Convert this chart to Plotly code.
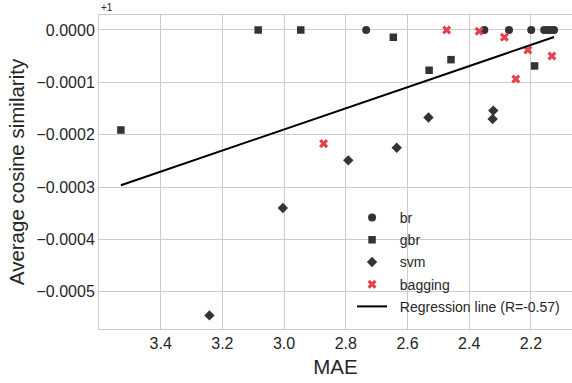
import numpy as np
import plotly.graph_objects as go

# MAE and average cosine similarity per model run
br_mae = [2.734, 2.351, 2.271, 2.199, 2.157, 2.146, 2.136, 2.125]
br_cos = [1.0, 1.0, 1.0, 1.0, 1.0, 1.0, 1.0, 1.0]

gbr_mae = [3.529, 3.084, 2.946, 2.646, 2.459, 2.530, 2.188]
gbr_cos = [0.999809, 1.0, 1.0, 0.9999861, 0.9999433, 0.9999231, 0.9999313]

svm_mae = [3.242, 3.004, 2.792, 2.635, 2.532, 2.322, 2.324]
svm_cos = [0.999455, 0.99966, 0.999751, 0.999775, 0.999833, 0.999846, 0.99983]

bag_mae = [2.872, 2.473, 2.368, 2.286, 2.249, 2.210, 2.132]
bag_cos = [0.999783, 1.0, 0.9999975, 0.9999861, 0.9999065, 0.9999618, 0.9999504]

# correlation coefficient reported for the regression line
r_reported = -0.57

x_ticks = [3.4, 3.2, 3.0, 2.8, 2.6, 2.4, 2.2]
y_ticks = [0.0, -0.0001, -0.0002, -0.0003, -0.0004, -0.0005]

DARK = "#333333"
RED = "#e3434f"
FONT = "Liberation Sans, Arial, sans-serif"
PAD = "\u00a0\u00a0"  # extra gap between legend symbol and label

all_mae = np.array(br_mae + gbr_mae + svm_mae + bag_mae)
all_cos = np.array(br_cos + gbr_cos + svm_cos + bag_cos) - 1.0
slope, intercept = np.polyfit(all_mae, all_cos, 1)
line_x = np.array([all_mae.max(), all_mae.min()])
line_y = slope * line_x + intercept

fig = go.Figure()

def add_series(name, xs, ys, symbol, color, size, group):
    fig.add_trace(go.Scatter(
        x=xs, y=np.array(ys) - 1.0, mode="markers", name=PAD + name,
        legendgroup=group,
        marker=dict(symbol=symbol, color=color, size=size, line=dict(width=0)),
    ))

add_series("br", br_mae, br_cos, "circle", DARK, 8, "a")
add_series("gbr", gbr_mae, gbr_cos, "square", DARK, 7.5, "b")
add_series("svm", svm_mae, svm_cos, "diamond", DARK, 8, "c")
add_series("bagging", bag_mae, bag_cos, "x", RED, 8, "d")

fig.add_trace(go.Scatter(
    x=line_x, y=line_y, mode="lines", legendgroup="e",
    name=PAD + f"Regression line (R={r_reported:.2f})",
    line=dict(color="black", width=2),
))

axis_common = dict(
    showgrid=True, gridcolor="#cccccc", gridwidth=1,
    showline=True, linecolor="#cccccc", linewidth=1,
    zeroline=False, ticks="",
    tickfont=dict(family=FONT, size=16, color="#262626"),
    title_font=dict(family=FONT, size=20.5, color="#262626"),
)

fig.update_layout(
    width=572, height=383,
    margin=dict(l=99, r=0, t=15, b=54),
    paper_bgcolor="white", plot_bgcolor="white",
    font=dict(family=FONT, color="#262626"),
    showlegend=True,
    legend=dict(
        x=0.535, y=0.4045, xanchor="left", yanchor="top",
        bgcolor="rgba(255,255,255,0)", borderwidth=0,
        font=dict(family=FONT, size=14, color="#262626"),
        tracegroupgap=1,
    ),
    xaxis=dict(
        axis_common, range=[3.6, 2.0668], tickvals=x_ticks,
        ticktext=[f"{v:.1f}" for v in x_ticks], mirror=True,
        title=dict(text="MAE", standoff=8),
    ),
    yaxis=dict(
        axis_common, range=[-0.000571, 0.0000286], tickvals=y_ticks,
        tickformat=".4f",
        title=dict(text="Average cosine similarity", standoff=6),
    ),
    annotations=[dict(
        text="+1", xref="paper", yref="paper", x=0, y=1, xanchor="left",
        yanchor="bottom", showarrow=False,
        font=dict(family=FONT, size=10, color="#262626"),
    )],
)

fig.write_html("out.html")
